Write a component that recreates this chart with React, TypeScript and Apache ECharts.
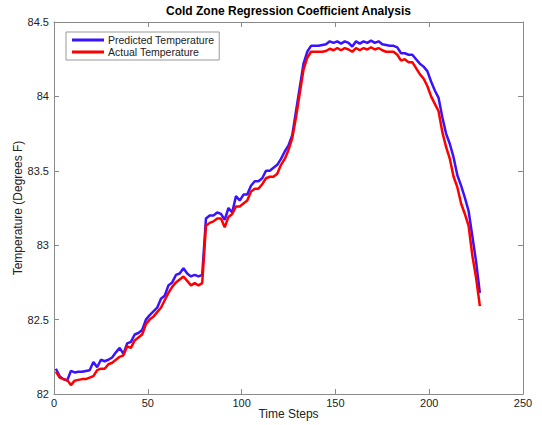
import React, { useEffect, useRef } from "react";
import * as echarts from "echarts";

const timeSteps = [
  1, 3, 5, 7, 9, 11, 13, 15, 17, 19, 21, 23, 25, 27, 29, 31, 33, 35, 37, 39,
  41, 43, 45, 47, 49, 51, 53, 55, 57, 59, 61, 63, 65, 67, 69, 71, 73, 75, 77, 79,
  81, 83, 85, 87, 89, 91, 93, 95, 97, 99, 101, 103, 105, 107, 109, 111, 113, 115, 117, 119,
  121, 123, 125, 127, 129, 131, 133, 135, 137, 139, 141, 143, 145, 147, 149, 151, 153, 155, 157, 159,
  161, 163, 165, 167, 169, 171, 173, 175, 177, 179, 181, 183, 185, 187, 189, 191, 193, 195, 197, 199,
  201, 203, 205, 207, 209, 211, 213, 215, 217, 219, 221, 223, 225, 227,
];

const predicted = [
  82.17, 82.12, 82.1, 82.09, 82.155, 82.145, 82.15, 82.15, 82.155, 82.16,
  82.215, 82.18, 82.23, 82.22, 82.23, 82.245, 82.28, 82.31, 82.27, 82.34,
  82.35, 82.4, 82.41, 82.43, 82.5, 82.53, 82.555, 82.58, 82.64, 82.66,
  82.73, 82.75, 82.8, 82.81, 82.845, 82.81, 82.79, 82.8, 82.79, 82.8,
  83.18, 83.2, 83.2, 83.22, 83.21, 83.17, 83.25, 83.22, 83.33, 83.3,
  83.34, 83.34, 83.4, 83.43, 83.43, 83.45, 83.5, 83.5, 83.52, 83.54,
  83.58, 83.63, 83.67, 83.74, 83.9, 84.06, 84.22, 84.3, 84.34, 84.34,
  84.34, 84.345, 84.35, 84.37, 84.36, 84.37, 84.355, 84.37, 84.36, 84.335,
  84.37, 84.355, 84.37, 84.36, 84.375, 84.36, 84.37, 84.35, 84.345, 84.34,
  84.34, 84.33, 84.29, 84.29, 84.28, 84.28, 84.25, 84.22, 84.2, 84.17,
  84.1, 84.04, 83.99, 83.86, 83.75, 83.68, 83.59, 83.47, 83.4, 83.32,
  83.23, 83.06, 82.89, 82.68,
];

const actual = [
  82.15, 82.11, 82.1, 82.095, 82.06, 82.09, 82.095, 82.1, 82.1, 82.11,
  82.12, 82.16, 82.17, 82.17, 82.2, 82.21, 82.23, 82.25, 82.26, 82.32,
  82.31, 82.36, 82.38, 82.4, 82.47, 82.5, 82.52, 82.55, 82.58, 82.63,
  82.68, 82.72, 82.75, 82.77, 82.79, 82.76, 82.73, 82.745, 82.73, 82.745,
  83.13, 83.15, 83.16, 83.18, 83.18, 83.12, 83.19, 83.21, 83.26, 83.26,
  83.28, 83.3, 83.36, 83.38, 83.38, 83.41, 83.45, 83.46, 83.46, 83.48,
  83.54, 83.58, 83.64, 83.72, 83.86, 84.02, 84.18, 84.26, 84.3, 84.3,
  84.3, 84.3, 84.305, 84.32, 84.31, 84.325, 84.31, 84.325, 84.315, 84.3,
  84.325, 84.31, 84.325, 84.315, 84.33, 84.315, 84.325, 84.31, 84.3, 84.3,
  84.3, 84.28, 84.24, 84.25, 84.23, 84.23, 84.19, 84.15, 84.12, 84.07,
  84.0, 83.95, 83.9, 83.76, 83.66, 83.58, 83.46, 83.39, 83.28, 83.21,
  83.13, 82.93, 82.78, 82.59,
];

const xTicks = { min: 0, max: 250, interval: 50 };
const yTicks = { min: 82, max: 84.5, interval: 0.5 };

const FONT = '"Liberation Sans", Arial, Helvetica, sans-serif';
const AXIS_COLOR = "#8a8a8a";
const TEXT_COLOR = "#222";

export default function App() {
  const ref = useRef<HTMLDivElement>(null);

  useEffect(() => {
    if (!ref.current) return;
    const chart = echarts.init(ref.current, null, { renderer: "svg" });

    const axisCommon = {
      axisLine: { show: true, onZero: false, lineStyle: { color: AXIS_COLOR, width: 1 } },
      axisTick: { show: true, inside: true, length: 5, lineStyle: { color: AXIS_COLOR } },
      splitLine: { show: false },
    };

    chart.setOption({
      animation: false,
      backgroundColor: "#fff",
      textStyle: { fontFamily: FONT },
      grid: { left: 54, right: 19, top: 22, bottom: 31, containLabel: false },
      graphic: [
        {
          type: "text",
          x: 288.5,
          y: 11,
          style: {
            text: "Cold Zone Regression Coefficient Analysis",
            align: "center",
            verticalAlign: "middle",
            fontFamily: FONT,
            fontWeight: "bold",
            fontSize: 12,
            fill: "#000",
          },
        },
      ],
      legend: {
        orient: "vertical",
        left: 66,
        top: 32,
        padding: [2, 5, 2, 6],
        itemGap: 0,
        itemWidth: 32,
        itemHeight: 3,
        icon: "rect",
        backgroundColor: "#fff",
        borderColor: "#999",
        borderWidth: 1,
        borderRadius: 0,
        textStyle: { fontFamily: FONT, fontSize: 10.5, color: TEXT_COLOR, lineHeight: 12, padding: [0, 0, 0, -1] },
        data: ["Predicted Temperature", "Actual Temperature"],
      },
      xAxis: [
        {
          type: "value",
          ...xTicks,
          position: "bottom",
          ...axisCommon,
          axisLabel: { color: TEXT_COLOR, fontSize: 11, margin: 3, fontFamily: FONT },
          name: "Time Steps",
          nameLocation: "middle",
          nameGap: 14,
          nameMoveOverlap: false,
          nameTextStyle: { color: TEXT_COLOR, fontSize: 12, fontFamily: FONT },
        },
        {
          type: "value",
          ...xTicks,
          position: "top",
          ...axisCommon,
          axisLabel: { show: false },
        },
      ],
      yAxis: [
        {
          type: "value",
          ...yTicks,
          position: "left",
          ...axisCommon,
          axisLabel: { color: TEXT_COLOR, fontSize: 11, margin: 5, fontFamily: FONT },
          name: "Temperature (Degrees F)",
          nameLocation: "middle",
          nameGap: 30,
          nameMoveOverlap: false,
          nameTextStyle: { color: TEXT_COLOR, fontSize: 12, fontFamily: FONT },
        },
        {
          type: "value",
          ...yTicks,
          position: "right",
          ...axisCommon,
          axisLabel: { show: false },
        },
      ],
      series: [
        {
          name: "Predicted Temperature",
          type: "line",
          xAxisIndex: 0,
          yAxisIndex: 0,
          showSymbol: false,
          symbol: "none",
          color: "#3a12ff",
          lineStyle: { color: "#3a12ff", width: 2.5 },
          data: timeSteps.map((t, i) => [t, predicted[i]]),
        },
        {
          name: "Actual Temperature",
          type: "line",
          xAxisIndex: 0,
          yAxisIndex: 0,
          showSymbol: false,
          symbol: "none",
          color: "#ff0000",
          lineStyle: { color: "#ff0000", width: 2.5 },
          data: timeSteps.map((t, i) => [t, actual[i]]),
        },
      ],
    });

    return () => chart.dispose();
  }, []);

  return (
    <div
      ref={ref}
      style={{ position: "fixed", left: 0, top: 0, width: 542, height: 425 }}
    />
  );
}
